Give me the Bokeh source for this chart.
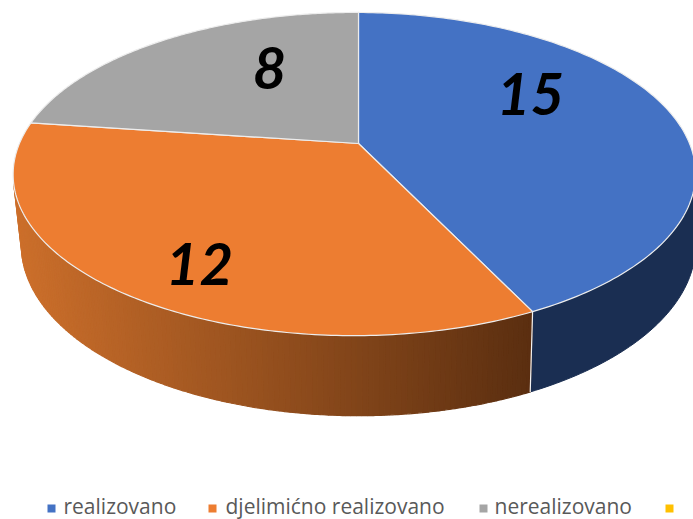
import numpy as np
from bokeh.plotting import figure
from bokeh.models import Range1d
from bokeh.core.properties import value
from bokeh.embed import file_html
from bokeh.resources import INLINE

categories = ["realizovano", "djelimićno realizovano", "nerealizovano", ""]
values = [15, 12, 8, 0]
labels = ["15", "12", "8"]
colors = ["#4472C4", "#ED7D31", "#A5A5A5", "#FFC000"]

label_x = [530, 199, 269]
label_y = [93, 263, 67]
legend_marker_x = [51, 212, 483, 669]
legend_text_x = [63, 225, 494, 0]

CX, CY = 358.0, 143.0
A, B, K, M = 335.0, 155.8, 0.189, 0.012
CY2, A2, B2, K2 = 214.0, 331.6, 165.0, 0.18


def top(t):
    x, y = np.sin(t), np.cos(t)
    d = 1 + K * y + M * x
    return CX + A * x / d, CY - B * y / d


def low(t):
    x, y = np.sin(t), np.cos(t)
    d = 1 + K2 * y
    return CX + A2 * x / d, CY2 - B2 * y / d


def mix(c1, c2, f):
    return "#%02x%02x%02x" % tuple(int(round(a + (b - a) * f)) for a, b in zip(c1, c2))


total = sum(values)
edges = 2 * np.pi * np.cumsum([0] + values) / total

p = figure(width=693, height=519, output_backend="svg", toolbar_location=None,
           x_range=Range1d(0, 693), y_range=Range1d(519, 0), min_border=0)
p.axis.visible = False
p.grid.visible = False
p.outline_line_color = None

# side wall of the first slice (visible part)
side_start = np.radians(101)
t = np.linspace(side_start, edges[1], 60)
tx, ty = top(t)
lx, ly = low(t)
p.patch(np.r_[tx, lx[::-1]], np.r_[ty, ly[::-1]], fill_color="#1A2E52", line_color="#1A2E52")

# side wall of the second slice: shaded strips
side_end = np.radians(256)
steps = np.linspace(edges[1], side_end, 130)
left_col, right_col = (0xCC, 0x6F, 0x2B), (0x5A, 0x2E, 0x10)
for a, b in zip(steps[:-1], steps[1:]):
    t = np.linspace(a, b, 3)
    tx, ty = top(t)
    lx, ly = low(t)
    f = (lx.mean() - 22) / (530 - 22)
    c = mix(left_col, right_col, float(np.clip(f, 0, 1)))
    p.patch(np.r_[tx, lx[::-1]], np.r_[ty, ly[::-1]], fill_color=c, line_color=c, line_width=1.2)

# white seam between the two walls
sx0, sy0 = top(edges[1])
sx1, sy1 = low(edges[1])
p.line([sx0, sx1], [sy0, sy1], line_color="#F2F2F2", line_width=1.2)

# top faces
for i in range(3):
    t = np.linspace(edges[i], edges[i + 1], 160)
    tx, ty = top(t)
    p.patch(np.r_[CX, tx], np.r_[CY, ty], fill_color=colors[i], line_color="#EDEDED",
            line_width=1.2, line_join="round")

p.text(label_x, label_y, text=labels, text_font=value("Lato"), text_font_size="58px",
       text_font_style="bold italic", text_color="#000000", text_align="center",
       text_baseline="middle")

p.scatter(legend_marker_x, [508] * 4, marker="square", size=8, fill_color=colors, line_color=None)
p.text(legend_text_x[:3], [505] * 3, text=categories[:3], text_font=value("Open Sans"),
       text_font_size="21px", text_color="#595959", text_align="left", text_baseline="middle")

open("out.html", "w").write(file_html(p, INLINE))
